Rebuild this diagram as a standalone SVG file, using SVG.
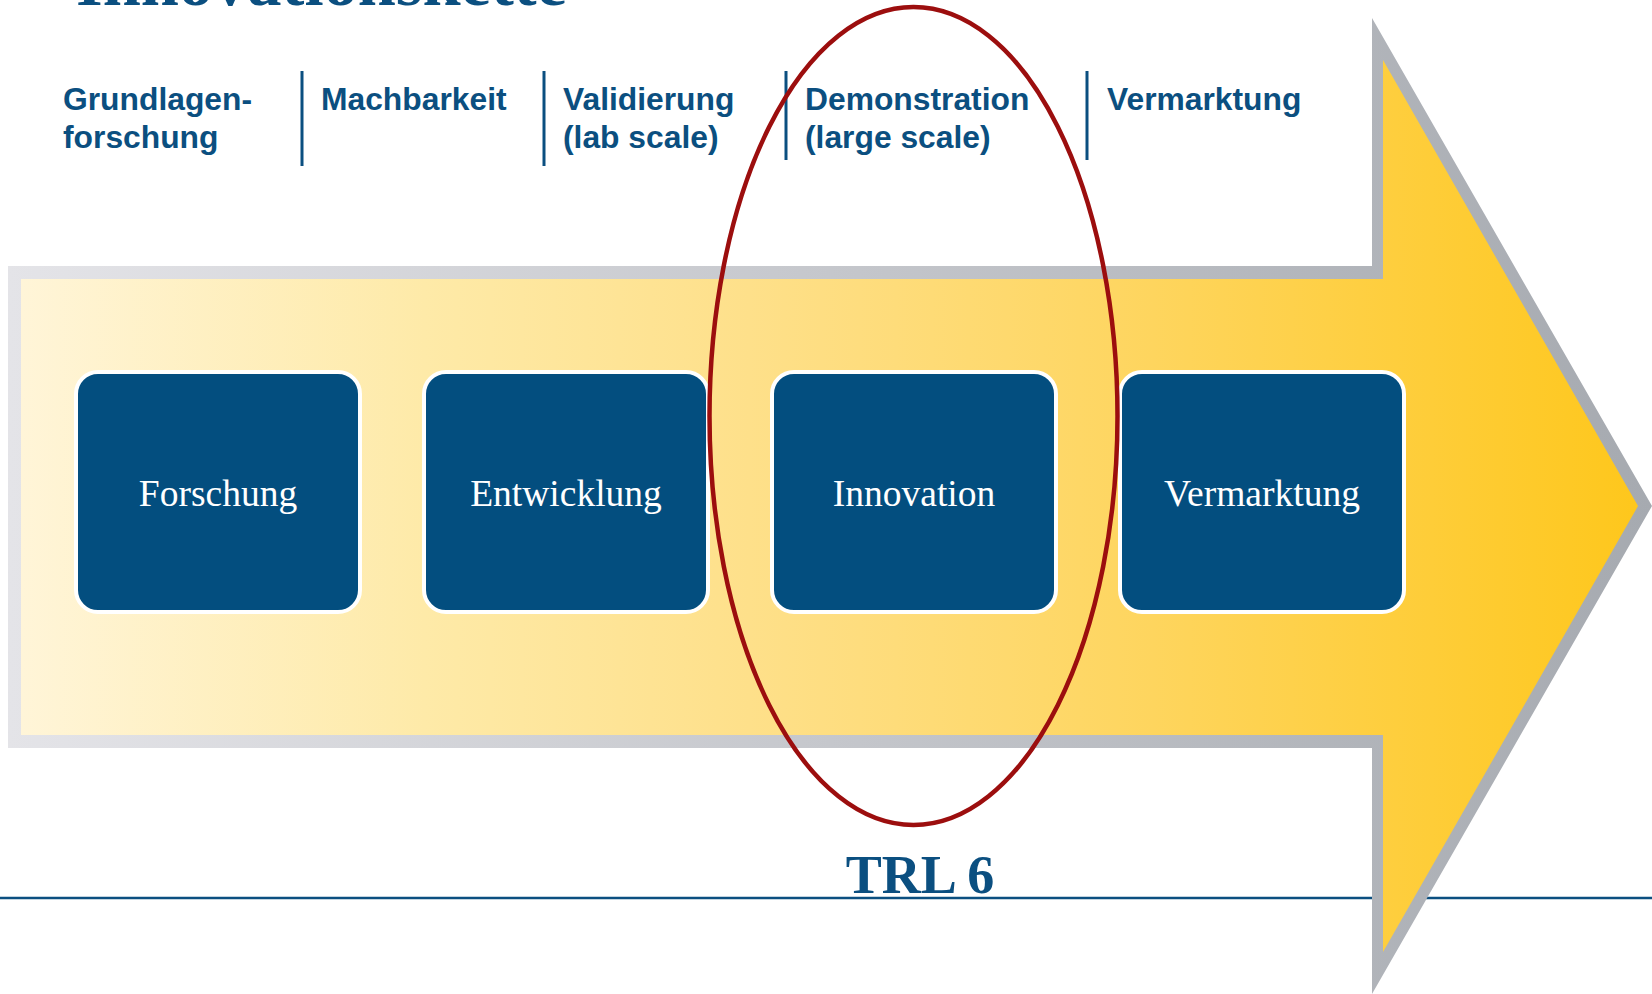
<svg xmlns="http://www.w3.org/2000/svg" width="1652" height="994" viewBox="0 0 1652 994">
  <defs>
    <linearGradient id="yel" x1="21" y1="0" x2="1638" y2="0" gradientUnits="userSpaceOnUse">
      <stop offset="0" stop-color="#FFF5D8"/>
      <stop offset="0.25" stop-color="#FEEAA8"/>
      <stop offset="0.45" stop-color="#FEE08A"/>
      <stop offset="0.7" stop-color="#FED55E"/>
      <stop offset="1" stop-color="#FEC71C"/>
    </linearGradient>
    <linearGradient id="gry" x1="8" y1="0" x2="1652" y2="0" gradientUnits="userSpaceOnUse">
      <stop offset="0" stop-color="#E4E4E8"/>
      <stop offset="1" stop-color="#A6AAB0"/>
    </linearGradient>
  </defs>
  <style>
    .phase { font-family: "Liberation Sans", Arial, sans-serif; font-weight: bold; font-size: 31.8px; fill: #0B4F80; }
    .sep { stroke: #0B4F80; stroke-width: 3; }
    .box { fill: #034E7F; stroke: #FFFFFF; stroke-width: 4; }
    .boxtxt { font-family: "Liberation Serif", "Times New Roman", serif; font-size: 37.5px; fill: #FFFFFF; text-anchor: middle; }
  </style>
  <rect width="1652" height="994" fill="#FFFFFF"/>

  <g id="title">
    <text x="76" y="5" font-family="Liberation Serif, Times New Roman, serif" font-weight="bold" font-size="68.5" fill="#0B4F80">Innovationskette</text>
  </g>

  <g id="baseline">
    <line x1="0" y1="898" x2="1652" y2="898" stroke="#0B4F80" stroke-width="2.5"/>
  </g>

  <g id="arrow">
    <polygon points="8,266 1372,266 1372,18 1652,506 1372,994 1372,748 8,748" fill="url(#gry)"/>
    <polygon points="21,279 1383,279 1383,60 1638,506 1383,952 1383,735 21,735" fill="url(#yel)"/>
  </g>

  <g id="phases">
    <text class="phase" x="63" y="110">Grundlagen-</text>
    <text class="phase" x="63" y="148">forschung</text>
    <text class="phase" x="321" y="110">Machbarkeit</text>
    <text class="phase" x="563" y="110">Validierung</text>
    <text class="phase" x="563" y="148">(lab scale)</text>
    <text class="phase" x="805" y="110">Demonstration</text>
    <text class="phase" x="805" y="148">(large scale)</text>
    <text class="phase" x="1107" y="110">Vermarktung</text>
    <line class="sep" x1="302" y1="71" x2="302" y2="166"/>
    <line class="sep" x1="544" y1="71" x2="544" y2="166"/>
    <line class="sep" x1="786" y1="71" x2="786" y2="160"/>
    <line class="sep" x1="1087" y1="71" x2="1087" y2="160"/>
  </g>

  <g id="node-forschung">
    <rect class="box" x="76" y="372" width="284" height="240" rx="22"/>
    <text class="boxtxt" x="218" y="506">Forschung</text>
  </g>
  <g id="node-entwicklung">
    <rect class="box" x="424" y="372" width="284" height="240" rx="22"/>
    <text class="boxtxt" x="566" y="506">Entwicklung</text>
  </g>
  <g id="node-innovation">
    <rect class="box" x="772" y="372" width="284" height="240" rx="22"/>
    <text class="boxtxt" x="914" y="506">Innovation</text>
  </g>
  <g id="node-vermarktung">
    <rect class="box" x="1120" y="372" width="284" height="240" rx="22"/>
    <text class="boxtxt" x="1262" y="506">Vermarktung</text>
  </g>

  <g id="highlight">
    <ellipse cx="913.5" cy="416" rx="204" ry="409" fill="none" stroke="#9C0E0E" stroke-width="4.5"/>
    <text x="920" y="893" font-family="Liberation Serif, Times New Roman, serif" font-weight="bold" font-size="54" fill="#0B4F80" text-anchor="middle">TRL 6</text>
  </g>
</svg>
